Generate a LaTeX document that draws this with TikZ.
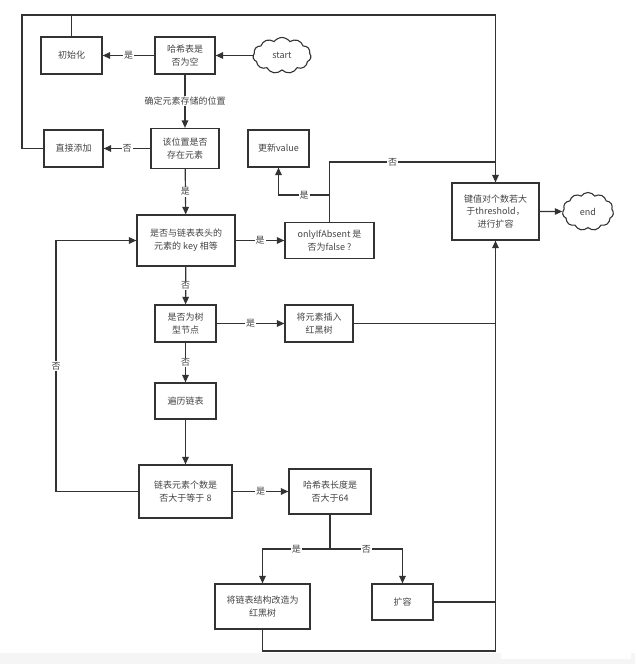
\documentclass[tikz,border=0pt]{standalone}
\usepackage{fontspec}
\setmainfont{Noto Sans CJK SC}
\usetikzlibrary{shapes.symbols,arrows.meta}
\definecolor{ln}{HTML}{333333}
\definecolor{tx}{HTML}{444444}
\tikzset{
  box/.style={draw=ln,line width=1.2pt,rectangle,align=center,inner sep=1pt,text=tx,font=\fontsize{9}{12.5}\selectfont},
  cl/.style={draw=ln,line width=1.1pt,cloud,cloud puffs=11,cloud puff arc=110,aspect=1.6,inner sep=0pt,text=tx,font=\fontsize{9}{11}\selectfont},
  ln/.style={draw=ln,line width=1.2pt},
  arr/.style={ln,-{Triangle[length=7.5pt,width=6.5pt]}},
  lab/.style={fill=white,inner sep=1pt,text=tx,font=\fontsize{9}{11}\selectfont},
}
\begin{document}
\begin{tikzpicture}[x=1pt,y=-1pt]
\useasboundingbox (0,0) rectangle (635,664);
\fill[white] (0,0) rectangle (635,664);
\fill[black!4] (0,653) rectangle (635,664);
\fill[white] (501,653) rectangle (631,659);

\node[box,minimum width=61pt,minimum height=37pt] (init) at (71.5,55.5) {初始化};
\node[box,minimum width=60pt,minimum height=37pt] (hempty) at (185,55.5) {哈希表是\\否为空};
\node[cl,minimum width=58pt,minimum height=36pt] (start) at (282,55.5) {start};
\node[box,minimum width=59pt,minimum height=37pt] (direct) at (73.5,148.5) {直接添加};
\node[box,minimum width=68pt,minimum height=40pt] (pos) at (185,148.5) {该位置是否\\存在元素};
\node[box,minimum width=61pt,minimum height=37pt] (update) at (278.5,148.5) {更新value};
\node[box,minimum width=98pt,minimum height=51pt] (keyeq) at (186,240.5) {是否与链表表头的\\元素的 key 相等};
\node[box,minimum width=89pt,minimum height=36pt] (onlyif) at (329.5,240.5) {onlyIfAbsent 是\\否为false ?};
\node[box,minimum width=61pt,minimum height=37pt] (tree) at (185.5,323.5) {是否为树\\型节点};
\node[box,minimum width=68pt,minimum height=37pt] (insert) at (319,323.5) {将元素插入\\红黑树};
\node[box,minimum width=61pt,minimum height=36pt] (traverse) at (185.5,401) {遍历链表};
\node[box,minimum width=93pt,minimum height=53pt] (count) at (185.5,491.5) {链表元素个数是\\否大于等于 8};
\node[box,minimum width=82pt,minimum height=45pt] (len64) at (330,491.5) {哈希表长度是\\否大于64};
\node[box,minimum width=95pt,minimum height=45pt] (convert) at (262.5,606.5) {将链表结构改造为\\红黑树};
\node[box,minimum width=61pt,minimum height=36pt] (resize) at (402.5,602) {扩容};
\node[box,minimum width=87pt,minimum height=57pt] (thresh) at (495.5,211.5) {键值对个数若大\\于threshold，\\进行扩容};
\node[cl,minimum width=51pt,minimum height=38pt] (end) at (588,211.5) {end};

\coordinate (topL) at (22,15);
\coordinate (topR) at (495.5,15);
\coordinate (ob) at (329.5,195);
\coordinate (on) at (329.5,162);
\coordinate (loopL) at (56,491.5);
\coordinate (split) at (330,549);
\coordinate (bot) at (262.5,651);

% start and first decisions
\draw[arr] (start) -- (hempty);
\draw[arr] (hempty) -- node[lab]{是} (init);
\draw[arr] (hempty) -- node[lab,pos=0.5]{确定元素存储的位置} (pos);
\draw[arr] (pos) -- node[lab]{否} (direct);
\draw[arr] (pos) -- node[lab]{是} (keyeq);

% top loop
\draw[ln] (init.north) -- (init.north |- topL);
\draw[arr] (direct.west) -| (topL) -- (topR) -- (thresh.north);

% onlyIfAbsent
\draw[arr] (keyeq) -- node[lab]{是} (onlyif);
\draw[arr] (onlyif.north) -- (ob) -| node[lab,pos=0.25]{是} (update.south);
\draw[ln] (onlyif.north) -- (on) -- node[lab,pos=0.38]{否} (on -| thresh);

% tree branch
\draw[arr] (keyeq) -- node[lab]{否} (tree);
\draw[arr] (tree) -- node[lab]{是} (insert);
\draw[ln] (insert.east) -- (insert.east -| thresh);
\draw[arr] (tree) -- node[lab]{否} (traverse);
\draw[arr] (traverse) -- (count);

% loop back
\draw[arr] (count.west) -- (loopL) -- node[lab,pos=0.5]{否} (loopL |- keyeq) -- (keyeq.west);

% length check
\draw[arr] (count) -- node[lab]{是} (len64);
\draw[ln] (len64.south) -- (split);
\draw[arr] (split) -| node[lab,pos=0.25]{是} (convert.north);
\draw[arr] (split) -| node[lab,pos=0.25]{否} (resize.north);
\draw[ln] (resize.east) -- (resize.east -| thresh);
\draw[arr] (convert.south) -- (bot) -| (thresh.south);

\draw[arr] (thresh) -- (end);
\end{tikzpicture}
\end{document}
